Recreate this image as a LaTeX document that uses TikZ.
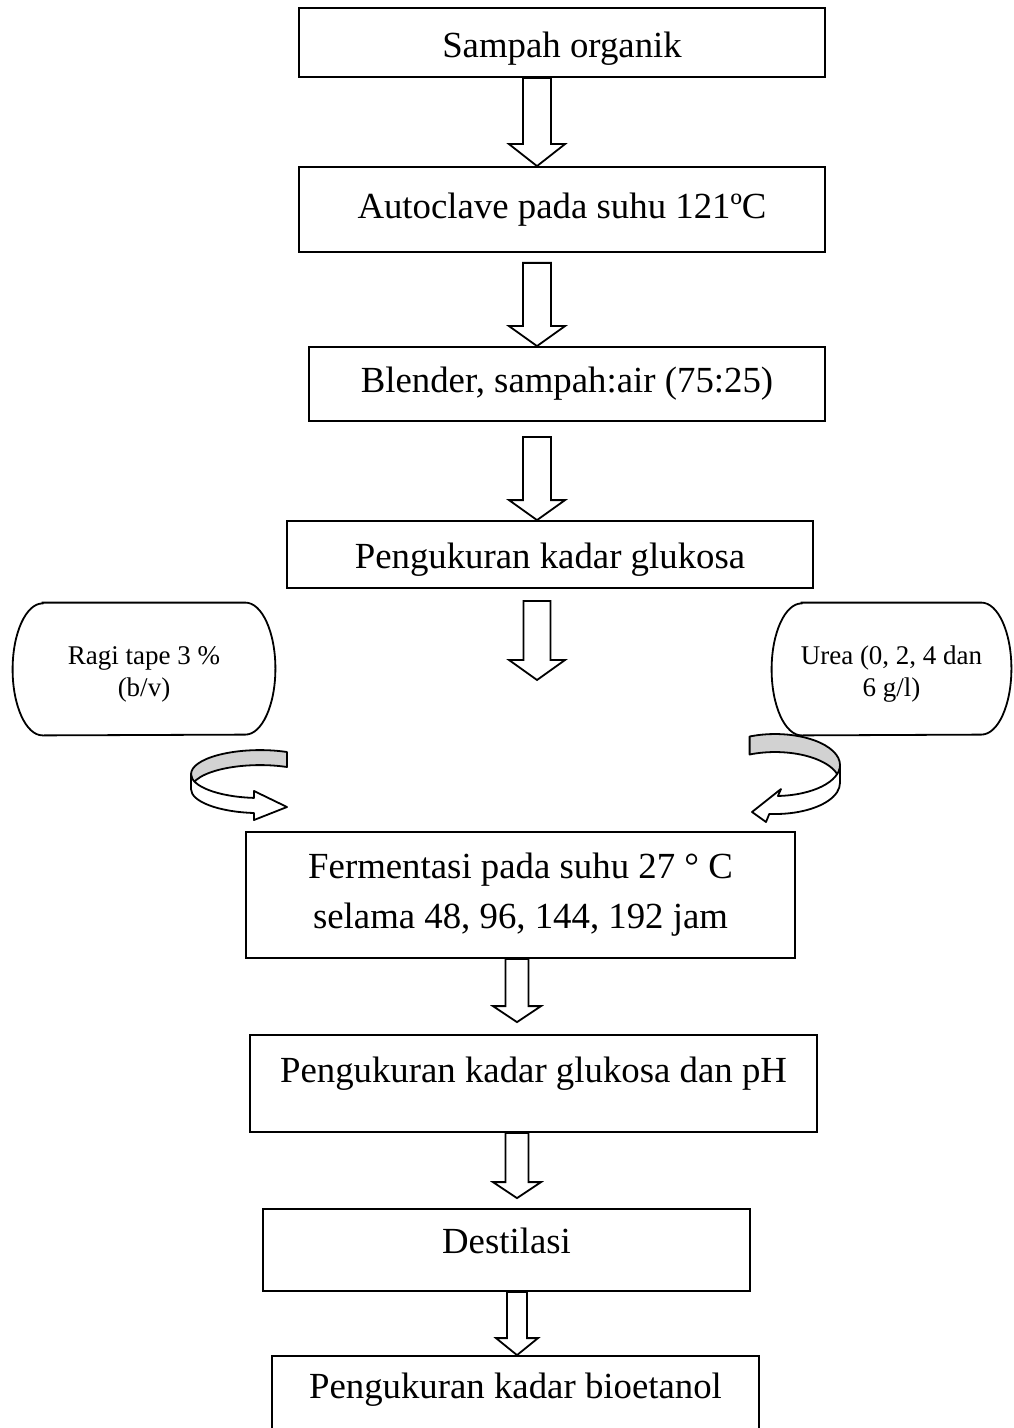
\documentclass[tikz,border=0pt]{standalone}
\usepackage{fontspec}
\setmainfont{Liberation Serif}
\usetikzlibrary{calc}

% hollow block arrow pointing down: from, tip, shaft half width, head half width, head length
\newcommand{\hollowdown}[5]{%
  \path #1 coordinate (ha) #2 coordinate (hb);
  \draw[hollow] ($(ha)+(-#3,0)$) -- ($(hb)+(-#3,-#5)$) -- ($(hb)+(-#4,-#5)$) -- (hb)
    -- ($(hb)+(#4,-#5)$) -- ($(hb)+(#3,-#5)$) -- ($(ha)+(#3,0)$) -- cycle;
}
% terminator outline round a node
\newcommand{\pillframe}[1]{%
  \draw[pillline] ([xshift=15pt]#1.north west) -- ([xshift=-15pt]#1.north east)
    arc[start angle=90, end angle=-90, x radius=15pt, y radius=33pt]
    -- ([xshift=15pt]#1.south west)
    arc[start angle=270, end angle=90, x radius=15pt, y radius=33pt] -- cycle;
}

\begin{document}
\begin{tikzpicture}[
        x=0.5pt, y=-0.5pt,
        box/.style={draw, line width=0.9pt, inner sep=0pt, align=center,
            font=\fontsize{18.4}{25}\selectfont},
        pill/.style={inner sep=0pt, align=center, text height=30.5pt,
            font=\fontsize{13.5}{16}\selectfont},
        pillline/.style={draw, line width=0.9pt},
        hollow/.style={draw, fill=white, line width=0.9pt, line join=miter},
        band/.style={draw, line width=0.9pt, line join=round}
    ]
    \useasboundingbox (0,0) rectangle (1013,1428);

    % --- Process steps ---
    \node[box, minimum width=263pt, minimum height=34.5pt, text height=18.5pt] (sampah) at (562,42.5) {Sampah organik};
    \node[box, minimum width=263pt, minimum height=42.5pt] (autoclave) at (562,209.5) {Autoclave pada suhu 121ºC};
    \node[box, minimum width=258pt, minimum height=37pt] (blender) at (567,384) {Blender, sampah:air (75:25)};
    \node[box, minimum width=263pt, minimum height=33.5pt, text height=17.5pt] (glukosa) at (550,554.5) {Pengukuran kadar glukosa};
    \node[box, minimum width=274.5pt, minimum height=63pt] (fermentasi) at (520.5,895)
        {Fermentasi pada suhu 27 ° C\\selama 48, 96, 144, 192 jam};
    \node[box, minimum width=283.5pt, minimum height=48.5pt, text depth=14pt] (ukurph) at (533.5,1083.5)
        {Pengukuran kadar glukosa dan pH};
    \node[box, minimum width=243.5pt, minimum height=41pt, text depth=9pt] (destilasi) at (506.5,1250) {Destilasi};
    \node[box, minimum width=243.5pt, minimum height=47pt, text depth=17pt] (bioetanol) at (515.5,1403)
        {Pengukuran kadar bioetanol};

    % --- Additions ---
    \node[pill, minimum width=131pt, minimum height=66pt] (ragi) at (144,669) {Ragi tape 3 \%\\(b/v)};
    \node[pill, minimum width=119.5pt, minimum height=66pt] (urea) at (891.5,669) {Urea (0, 2, 4 dan\\6 g/l)};
    \pillframe{ragi}
    \pillframe{urea}

    % --- Block arrows ---
    \coordinate (upcol) at (537,0);
    \coordinate (lowcol) at (517,0);
    \coordinate (mixtip) at (537,680);
    \hollowdown{(sampah.south -| upcol)}{(autoclave.north -| upcol)}{14}{28}{22}
    \hollowdown{($(autoclave.south -| upcol)+(0,10)$)}{(blender.north -| upcol)}{14}{28}{20}
    \hollowdown{($(blender.south -| upcol)+(0,15)$)}{(glukosa.north -| upcol)}{14}{28}{20}
    \hollowdown{($(glukosa.south -| mixtip)+(0,12)$)}{(mixtip)}{13.5}{28}{20}
    \hollowdown{(fermentasi.south -| lowcol)}{($(ukurph.north -| lowcol)+(0,-12)$)}{11.5}{24}{16}
    \hollowdown{(ukurph.south -| lowcol)}{($(destilasi.north -| lowcol)+(0,-10)$)}{11.5}{24}{16}
    \hollowdown{(destilasi.south -| lowcol)}{(bioetanol.north -| lowcol)}{10}{21}{17}

    % --- Curved arrows into fermentation ---
    % left
    \draw[band, fill=gray!35] (287,752) arc[start angle=-67, end angle=-180, x radius=69, y radius=24]
        -- ++(0,15) arc[start angle=-180, end angle=-67, x radius=69, y radius=24] -- cycle;
    \draw[band, fill=white] (191,774) arc[start angle=180, end angle=95, x radius=69, y radius=24]
        -- (254,791) -- (287,807) -- (254,820) -- (254,813)
        arc[start angle=95, end angle=180, x radius=69, y radius=24] -- cycle;
    % right
    \draw[band, fill=gray!35] (749.6,736.5) arc[start angle=-113, end angle=0, x radius=65, y radius=31]
        -- ++(0,18) arc[start angle=0, end angle=-113, x radius=65, y radius=31] -- cycle;
    \draw[band, fill=white] (840,765) arc[start angle=0, end angle=87.4, x radius=65, y radius=31]
        -- (781,789) -- (752,812) -- (766,822) -- (769.3,813.9)
        arc[start angle=95, end angle=0, x radius=65, y radius=31] -- cycle;

\end{tikzpicture}
\end{document}
